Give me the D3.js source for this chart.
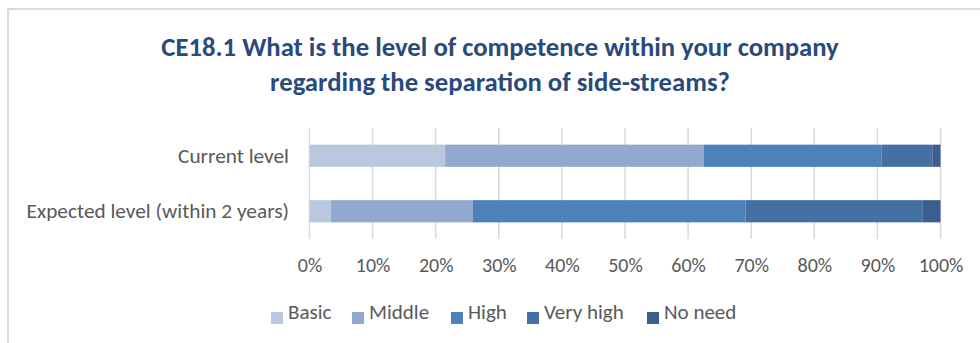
<!DOCTYPE html>
<html><head><meta charset="utf-8">
<script src="https://cdn.jsdelivr.net/npm/d3@7"></script>
<style>html,body{margin:0;padding:0;background:#fff;}svg{display:block;}</style>
</head><body>
<svg id="chart" width="980" height="343"></svg>
<script>
const categories = ["Current level", "Expected level (within 2 years)"];
const seriesNames = ["Basic", "Middle", "High", "Very high", "No need"];
const basicVals = [21.5, 3.4];
const middleVals = [41.0, 22.5];
const highVals = [28.2, 43.2];
const veryHighVals = [8.0, 28.1];
const noNeedVals = [1.3, 2.8];
const tickLabels = ["0%","10%","20%","30%","40%","50%","60%","70%","80%","90%","100%"];
const colors = ["#B9C7DF", "#91A9CE", "#4E80BA", "#4470A3", "#3A5F8E"];
const titleLines = ["CE18.1 What is the level of competence within your company", "regarding the separation of side-streams?"];

const seriesVals = [basicVals, middleVals, highVals, veryHighVals, noNeedVals];
const rows = categories.map((c, i) => {
  const r = {cat: c};
  seriesNames.forEach((s, j) => r[s] = seriesVals[j][i]);
  return r;
});
const stacked = d3.stack().keys(seriesNames)(rows);

const svg = d3.select("#chart");
const font = "Carlito, Calibri, Lato, 'Open Sans', sans-serif";

// outer border
svg.append("rect").attr("x", 8).attr("y", 9).attr("width", 990).attr("height", 360)
  .attr("fill", "none").attr("stroke", "#D9D9D9").attr("stroke-width", 2);

// title
const title = svg.append("text").attr("text-anchor", "middle")
  .attr("font-family", font).attr("font-weight", "bold").attr("font-size", 26.7)
  .attr("fill", "#2A4A7C");
titleLines.forEach((t, i) => {
  title.append("tspan").attr("x", 500).attr("y", 56 + i * 35).text(t);
});

const x = d3.scaleLinear().domain([0, 100]).range([309.5, 940.5]);
const y = d3.scaleBand().domain(categories).range([128, 239]).paddingInner(0.6).paddingOuter(0.3);

// gridlines
svg.append("g").selectAll("line").data(d3.range(0, 101, 10)).join("line")
  .attr("x1", d => x(d)).attr("x2", d => x(d))
  .attr("y1", 128).attr("y2", 239)
  .attr("stroke", "#D9D9D9").attr("stroke-width", 1.5);

// bars
svg.append("g").selectAll("g").data(stacked).join("g")
  .attr("fill", (d, i) => colors[i])
  .selectAll("rect").data(d => d).join("rect")
  .attr("x", d => x(d[0]))
  .attr("width", d => x(d[1]) - x(d[0]))
  .attr("y", d => y(d.data.cat))
  .attr("height", y.bandwidth());

// x axis labels
const xAxis = d3.axisBottom(x).tickValues(d3.range(0, 101, 10))
  .tickFormat((d, i) => tickLabels[i]).tickSize(0).tickPadding(0);
const gx = svg.append("g").attr("transform", "translate(0,258)").call(xAxis);
gx.select(".domain").remove();
gx.selectAll("text").attr("font-family", font).attr("font-size", 20).attr("fill", "#595959");

// y axis labels
const yAxis = d3.axisLeft(y).tickSize(0).tickPadding(0);
const gy = svg.append("g").attr("transform", "translate(289,0)").call(yAxis);
gy.select(".domain").remove();
gy.selectAll("text").attr("font-family", font).attr("font-size", 21.3).attr("fill", "#595959");

// legend
const legendX = [271, 352, 451, 527, 647];
const lg = svg.append("g").selectAll("g").data(seriesNames).join("g")
  .attr("transform", (d, i) => `translate(${legendX[i]},0)`);
lg.append("rect").attr("x", 0).attr("y", 312).attr("width", 12).attr("height", 12)
  .attr("fill", (d, i) => colors[i]);
lg.append("text").attr("x", 17).attr("y", 319)
  .attr("font-family", font).attr("font-size", 21).attr("fill", "#595959").text(d => d);
</script>
</body></html>
